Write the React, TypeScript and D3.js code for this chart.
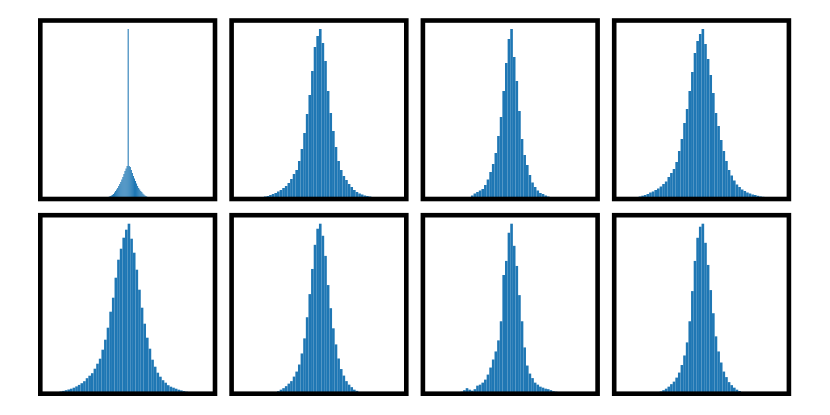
import React from "react";
import * as d3 from "d3";

// Histogram bin counts (one array per panel, left→right, top→bottom)
const counts1 = [1.5, 2, 2.5, 3, 3.5, 4.2, 5, 6.5, 8, 9.5, 11, 13, 15, 17, 19.5, 22, 25, 28, 30.5, 33, 170, 33, 32, 29, 26, 23, 20.5, 18, 15.5, 13, 11, 9.5, 8, 7, 5.5, 4.5, 3.5, 3, 2.2, 1.5];
const counts2 = [2, 2.5, 3, 4, 5, 6, 7.5, 9, 11, 13, 16, 20, 25, 29, 38, 50, 66, 85, 104, 128, 152, 163, 170, 156, 138, 108, 86, 68, 52, 38, 29, 23, 19, 15, 12, 9, 7, 5.5, 4.5, 3.5, 3, 2.5, 2, 1.5];
const counts3 = [2, 3.5, 5.5, 7, 8.5, 10, 14, 19.5, 27, 35, 46, 63, 82, 108, 136, 160, 170, 142, 118, 88, 60, 44, 34, 24, 16.5, 12, 8.5, 6, 5, 3.5, 2.5, 1];
const counts4 = [2, 2.5, 3.3, 4, 5, 6.5, 7.5, 9, 10.5, 12.5, 15, 17.5, 22, 26, 30, 37, 48, 60, 76, 90, 108, 127, 146, 158, 165, 170, 155, 140, 124, 106, 86, 73, 59, 48, 38, 29, 23.5, 18.5, 14.5, 12, 9.5, 8, 6.5, 5.5, 4.5, 4, 3.2, 2.6, 2.2, 1.8];
const counts5 = [1.5, 2.2, 2.8, 3.5, 4.2, 5, 6, 7.3, 8.8, 10.5, 12.5, 15.5, 18, 20.5, 25, 30, 35, 44, 54, 66, 82, 96, 116, 134, 145, 156, 164, 170, 155, 141, 124, 104, 86, 70, 56, 45, 34, 27, 21, 17, 13.5, 11, 8.5, 7, 6, 5, 4, 3.3, 2.6, 2, 1.6, 1.2, 0.8];
const counts6 = [1.5, 2.5, 4, 5.5, 7.5, 10, 12.5, 17, 22, 29, 40, 55, 76, 99, 124, 148, 164, 169, 157, 137, 108, 85, 65, 49, 35, 24.5, 18, 12.5, 9, 6.5, 4, 2.8, 1.6, 1];
const counts7 = [0.8, 0.5, 1, 2, 3.5, 5.5, 4, 3, 4.5, 8, 9, 11, 14, 19, 26, 34, 42, 53, 72, 118, 132, 160, 169, 147, 127, 98, 72, 46, 28, 20, 15.5, 11, 9, 7, 6, 5, 4.5, 3.5, 2.5, 2, 1.5, 1.5, 0.8];
const counts8 = [1.2, 2.2, 3.5, 5, 7, 9.5, 12, 16, 21, 28.5, 38, 51, 72, 102, 132, 155, 166, 169, 150, 128, 103, 80, 57, 42, 31, 22, 16.5, 11.5, 8.5, 6, 4, 2.7, 1.5, 0.8];

const allCounts = [counts1, counts2, counts3, counts4, counts5, counts6, counts7, counts8];
// left edge of the first bin and bin width, in data units (axis spans -1..1)
const binStarts = [-0.24, -0.66, -0.48, -0.75, -0.81, -0.51, -0.66, -0.51];
const binWidths = [0.012, 0.03, 0.03, 0.03, 0.03, 0.03, 0.03, 0.03];
const xExtent = [-1, 1];

const W = 830;
const H = 415;
const colX = [40.3, 231.6, 422.9, 614.2];
const rowY = [20.5, 215.2];
const PW = 174.7;
const PH = 178.5;

function Panel({ idx }: { idx: number }) {
  const counts = allCounts[idx];
  const x0 = colX[idx % 4];
  const y0 = rowY[Math.floor(idx / 4)];
  const x = d3.scaleLinear().domain(xExtent).range([x0, x0 + PW]);
  const maxC = d3.max(counts) as number;
  const y = d3.scaleLinear().domain([0, maxC * 1.05]).range([y0 + PH, y0]);
  const bins = counts.map((c, i) => {
    const lo = binStarts[idx] + i * binWidths[idx];
    return { lo, hi: lo + binWidths[idx], c };
  });
  return (
    <g>
      {bins.map((b, i) => (
        <rect
          key={i}
          x={x(b.lo)}
          width={x(b.hi) - x(b.lo)}
          y={y(b.c)}
          height={y(0) - y(b.c)}
          fill="#1f77b4"
        />
      ))}
      <rect
        x={x0}
        y={y0}
        width={PW}
        height={PH}
        fill="none"
        stroke="#000"
        strokeWidth={4.6}
      />
    </g>
  );
}

export default function App() {
  return (
    <svg
      width={W}
      height={H}
      style={{ position: "absolute", left: 0, top: 0, background: "#fff" }}
    >
      <rect x={0} y={0} width={W} height={H} fill="#fff" />
      {allCounts.map((_, i) => (
        <Panel key={i} idx={i} />
      ))}
    </svg>
  );
}
